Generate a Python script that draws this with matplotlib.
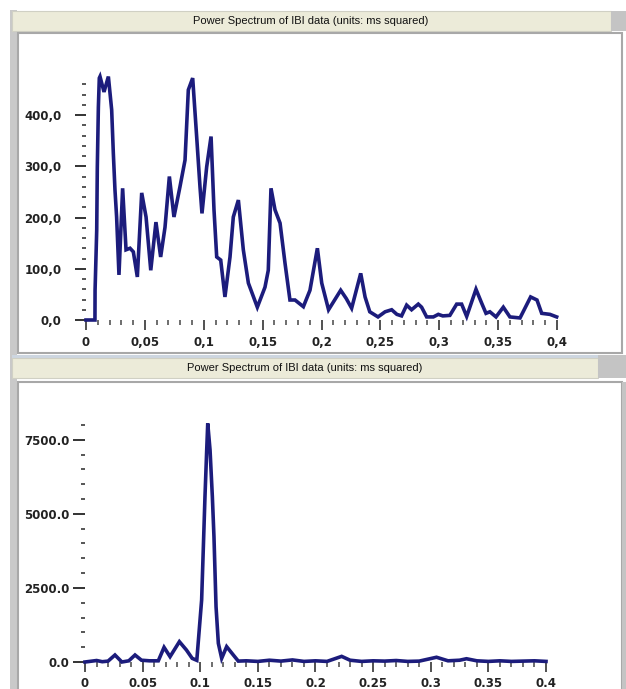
import matplotlib
matplotlib.use('Agg')
import matplotlib.pyplot as plt
from matplotlib.patches import Rectangle
from matplotlib.ticker import MultipleLocator, FuncFormatter

# %% data
top_freq = [0, 0.0076, 0.0077, 0.0091, 0.0096, 0.0105, 0.0113, 0.0119, 0.0153,
            0.0190, 0.0218, 0.0232, 0.0246, 0.0260, 0.0280, 0.0311, 0.0340,
            0.0374, 0.0402, 0.0436, 0.0473, 0.0510, 0.0550, 0.0594, 0.0634,
            0.0671, 0.0708, 0.0747, 0.0798, 0.0841, 0.0869, 0.0906, 0.0940,
            0.0968, 0.0985, 0.1025, 0.1062, 0.1087, 0.1110, 0.1144, 0.1180,
            0.1223, 0.1251, 0.1294, 0.1336, 0.1379, 0.1455, 0.1520, 0.1548,
            0.1571, 0.1605, 0.1648, 0.1690, 0.1732, 0.1775, 0.1846, 0.1902,
            0.1965, 0.2002, 0.2060, 0.2163, 0.2210, 0.2256, 0.2333, 0.2370,
            0.2410, 0.2480, 0.2540, 0.2596, 0.2640, 0.2680, 0.2723, 0.2765,
            0.2822, 0.2850, 0.2893, 0.2950, 0.2992, 0.3030, 0.3090, 0.3148,
            0.3190, 0.3233, 0.3312, 0.3360, 0.3397, 0.3430, 0.3482, 0.3544,
            0.3600, 0.3686, 0.3776, 0.3830, 0.3870, 0.3940, 0.3997]
top_power = [0, 0, 58, 175, 297, 415, 472, 475, 445,
             475, 410, 326, 254, 201, 88, 257, 137,
             140, 133, 84, 248, 201, 97, 191, 123,
             181, 280, 201, 260, 312, 449, 472, 357,
             260, 208, 299, 358, 215, 123, 117, 45,
             123, 201, 234, 137, 72, 25, 64, 97,
             257, 215, 189, 111, 39, 39, 26, 58,
             140, 72, 20, 58, 42, 23, 91, 45,
             16, 6, 16, 20, 11, 8, 29, 20,
             31, 25, 6, 6, 11, 8, 9, 31,
             31, 7, 60, 33, 13, 16, 6, 25,
             6, 4, 45, 39, 13, 11, 6]

bot_freq = [0, 0.0101, 0.0150, 0.0200, 0.0260, 0.0320, 0.0380, 0.0434, 0.0490,
            0.0560, 0.0636, 0.0686, 0.0738, 0.0819, 0.0880, 0.0930, 0.0970,
            0.1012, 0.1027, 0.1041, 0.1056, 0.1065, 0.1085, 0.1105, 0.1119,
            0.1137, 0.1157, 0.1186, 0.1229, 0.1287, 0.1330, 0.1400, 0.1500,
            0.1600, 0.1700, 0.1800, 0.1900, 0.2000, 0.2100, 0.2227, 0.2300,
            0.2400, 0.2500, 0.2600, 0.2700, 0.2800, 0.2900, 0.3050, 0.3150,
            0.3250, 0.3310, 0.3400, 0.3500, 0.3600, 0.3700, 0.3800, 0.3900,
            0.4000]
bot_power = [0, 50, 10, 30, 236, 0, 40, 236, 60,
             40, 40, 495, 180, 686, 405, 124, 56,
             2093, 3891, 5579, 7155, 8050, 7155, 5579, 4229,
             1867, 630, 124, 518, 236, 30, 40, 20,
             60, 30, 70, 20, 40, 20, 190, 60,
             20, 40, 30, 50, 20, 30, 160, 40,
             60, 110, 40, 20, 40, 20, 30, 40,
             20]

title = 'Power Spectrum of IBI data (units: ms squared)'

W, H = 626, 689
LINE = '#1c1c7c'
INK = '#222222'

fig = plt.figure(figsize=(W / 100, H / 100), dpi=100)
fig.patch.set_facecolor('white')


def box(x, y, w, h, **kw):
    # rectangle in pixel coords (y from top), kept behind the axes
    fig.add_artist(Rectangle((x / W, 1 - (y + h) / H), w / W, h / H,
                             transform=fig.transFigure, zorder=-5, **kw))


def place(x0, x1, y0, y1):
    # axes rect from pixel coords, y0 = bottom (data min), y1 = top
    return [x0 / W, 1 - y0 / H, (x1 - x0) / W, (y0 - y1) / H]


# window chrome
box(10, 10, 7, 679, facecolor='#c9c9c9', edgecolor='none')
box(12, 11, 599, 20, facecolor='#ecebd9', edgecolor='#d0d0c4', lw=0.8)
box(611, 11, 15, 20, facecolor='#c4c4c4', edgecolor='none')
box(18, 33, 604, 320, facecolor='white', edgecolor='#a8a8a8', lw=1.5)
box(12, 355, 586, 3, facecolor='#cdd6e0', edgecolor='none')
box(12, 358, 586, 20, facecolor='#ecebd9', edgecolor='#d0d0c4', lw=0.8)
box(598, 355, 28, 23, facecolor='#c4c4c4', edgecolor='none')
box(18, 382, 604, 310, facecolor='white', edgecolor='#a8a8a8', lw=1.5)
box(622, 382, 4, 307, facecolor='#c4c4c4', edgecolor='none')

fig.text(311 / W, 1 - 21 / H, title, ha='center', va='center',
         fontsize=8, family='Liberation Sans', color='#111111')
fig.text(305 / W, 1 - 368 / H, title, ha='center', va='center',
         fontsize=8, family='Liberation Sans', color='#111111')


def style(ax, ymaj, ymin, yfmt, xfmt, ylen, ypad, xpad):
    for s in ax.spines.values():
        s.set_visible(False)
    ax.set_facecolor('none')
    ax.xaxis.set_major_locator(MultipleLocator(0.05))
    ax.xaxis.set_minor_locator(MultipleLocator(0.01))
    ax.yaxis.set_major_locator(MultipleLocator(ymaj))
    ax.yaxis.set_minor_locator(MultipleLocator(ymin))
    ax.xaxis.set_major_formatter(FuncFormatter(xfmt))
    ax.yaxis.set_major_formatter(FuncFormatter(yfmt))
    ax.tick_params(axis='x', which='major', length=7, width=1.2,
                   color='#333333', pad=xpad)
    ax.tick_params(axis='x', which='minor', length=3.5, width=1.2,
                   color='#555555')
    ax.tick_params(axis='y', which='major', length=ylen, width=1.4,
                   color='#333333', pad=ypad)
    ax.tick_params(axis='y', which='minor', length=3, width=1.4,
                   color='#555555')
    for lab in ax.get_xticklabels() + ax.get_yticklabels():
        lab.set_fontweight('bold')
        lab.set_fontsize(8.5)
        lab.set_color(INK)


def comma_x(v, pos):
    s = '0' if abs(v) < 1e-9 else ('%g' % round(v, 3))
    return s.replace('.', ',')


# %% top panel
ax1 = fig.add_axes(place(86, 557, 320, 320 - 470 * 0.5125))
ax1.plot(top_freq, top_power, color=LINE, lw=2.6, clip_on=False,
         solid_joinstyle='miter')
ax1.set_xlim(0, 0.4)
ax1.set_ylim(0, 470)
style(ax1, 100, 20, lambda v, p: ('%.1f' % v).replace('.', ','), comma_x,
      8, 9.5, 4.5)

# %% bottom panel
ax2 = fig.add_axes(place(85, 546, 662, 662 - 8100 * 0.02963))
ax2.plot(bot_freq, bot_power, color=LINE, lw=2.6, clip_on=False,
         solid_joinstyle='miter')
ax2.set_xlim(0, 0.4)
ax2.set_ylim(0, 8100)
style(ax2, 2500, 500, lambda v, p: '%.1f' % v,
      lambda v, p: '0' if abs(v) < 1e-9 else '%g' % round(v, 3),
      8.5, 2.5, 3.5)

plt.savefig('out.png', dpi=100)
